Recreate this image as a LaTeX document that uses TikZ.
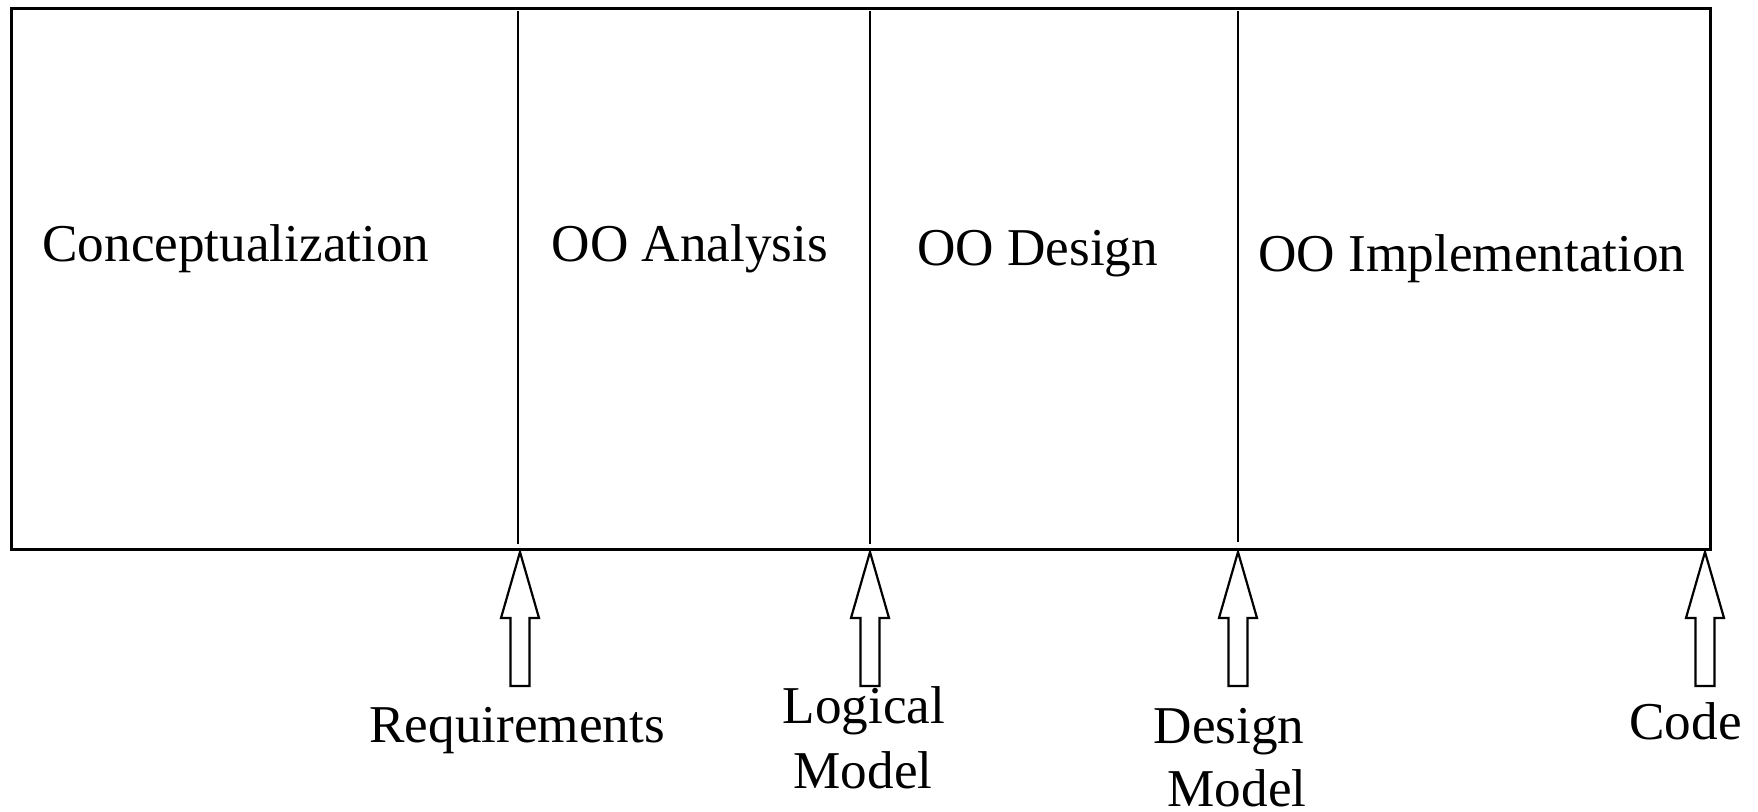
\documentclass[tikz,border=0pt]{standalone}
\usepackage{fontspec}
\setmainfont{Liberation Serif}
\begin{document}
\begin{tikzpicture}[x=0.5pt,y=-0.5pt]
\tikzset{
  label/.style={font=\fontsize{26.6}{32}\selectfont, inner sep=0pt},
  phase/.style={label, anchor=base west},
  product/.style={label, anchor=base},
  frame/.style={draw, line width=1.35pt},
  divider/.style={line width=1.2pt},
  blockarrow/.pic={
    \draw[line width=1.1pt, line join=miter]
      (0,0) -- (19,66) -- (9.5,66) -- (9.5,134) -- (-9.5,134) -- (-9.5,66) -- (-19,66) -- cycle;
  }
}
\useasboundingbox (0,0) rectangle (1758,812);

% process frame and phase boundaries
\draw[frame] (11.5,8.7) rectangle (1710.7,549.5);
\draw[divider] (518,11) -- (518,544);
\draw[divider] (870,11) -- (870,544);
\draw[divider] (1238,11) -- (1238,542);

% phase names
\node[phase] (concept) at (42,261.7) {Conceptualization};
\node[phase] (analysis) at (551.3,261.7) {OO Analysis};
\node[phase] (design) at (916.8,265.7) {OO Design};
\node[phase] (impl) at (1258,271.7) {OO Implementation};

% deliverables at the end of each phase
\pic at (520,552) {blockarrow};
\pic at (870,552) {blockarrow};
\pic at (1238,552) {blockarrow};
\pic at (1705,552) {blockarrow};

\node[phase] (req) at (369,742.7) {Requirements};
\node[product] (logical) at (864,724) {Logical};
\node[product] (logmodel) at (863,788.3) {Model};
\node[product] (designl) at (1229,743.3) {Design};
\node[product] (desmodel) at (1237,806) {Model};
\node[phase] (code) at (1629,740) {Code};
\end{tikzpicture}
\end{document}
